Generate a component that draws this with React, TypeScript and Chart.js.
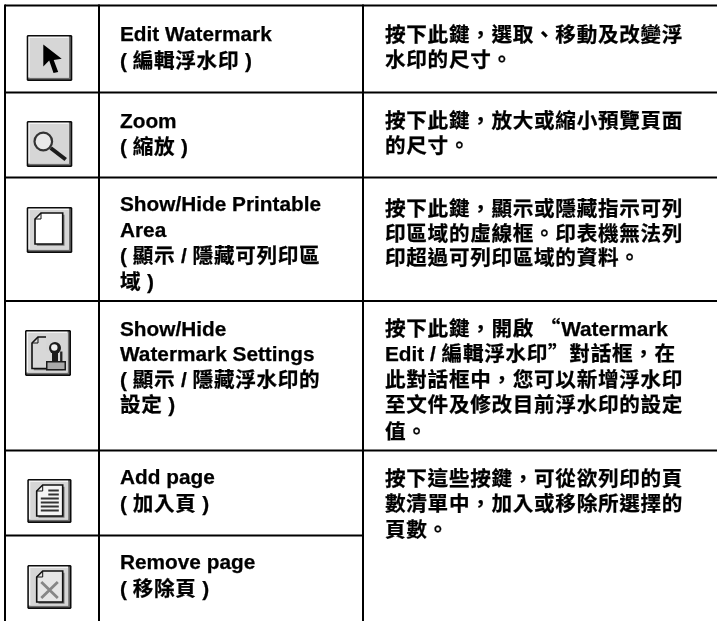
import { useEffect, useRef } from "react";
import { Chart, registerables } from "chart.js";

Chart.register(...registerables);

// ---- content of the table ----
const commandLabels: string[][] = [
  ["Edit Watermark", "( 編輯浮水印 )"],
  ["Zoom", "( 縮放 )"],
  ["Show/Hide Printable", "Area", "( 顯示 / 隱藏可列印區", "域 )"],
  ["Show/Hide", "Watermark Settings", "( 顯示 / 隱藏浮水印的", "設定 )"],
  ["Add page", "( 加入頁 )"],
  ["Remove page", "( 移除頁 )"],
];
const descriptions: string[][] = [
  ["按下此鍵，選取、移動及改變浮", "水印的尺寸。"],
  ["按下此鍵，放大或縮小預覽頁面", "的尺寸。"],
  ["按下此鍵，顯示或隱藏指示可列", "印區域的虛線框。印表機無法列", "印超過可列印區域的資料。"],
  ["按下此鍵，開啟 “Watermark", "Edit / 編輯浮水印”對話框，在", "此對話框中，您可以新增浮水印", "至文件及修改目前浮水印的設定", "值。"],
  ["按下這些按鍵，可從欲列印的頁", "數清單中，加入或移除所選擇的", "頁數。"],
];
const iconKinds = ["arrow", "zoom", "page", "stamp", "lines", "cross"];

// ---- layout in table units (the axes run 0..717 and 0..621) ----
const columnRules = [5, 99, 363];
const rowRules = [5.5, 92.5, 177.5, 301, 450.5];
const shortRowRule = 535.6;
const commandBaselines = [
  [41, 68],
  [127.5, 154],
  [211, 237, 263, 289],
  [335.5, 361, 387, 412],
  [484, 511],
  [569, 596],
];
const descriptionBaselines = [
  [41.5, 66.5],
  [127.5, 152.5],
  [215.5, 240.5, 265],
  [335.5, 360.5, 386.5, 411.5, 438.5],
  [485.5, 510.5, 536.5],
];
const iconOrigins = [
  [26.7, 35],
  [26.7, 121],
  [26.7, 207],
  [25, 330],
  [27.3, 479],
  [27.3, 565],
];
const iconSizes = [
  [45.6, 46],
  [45.6, 46],
  [45.6, 46],
  [46, 46],
  [44.2, 44],
  [44.2, 44],
];
const commandX = 120;
const descriptionX = 385;
const tableWidth = 717;
const tableHeight = 621;

const LATIN = '"Liberation Sans", Arial, sans-serif';
const CJK = '"Noto Sans CJK TC", sans-serif';

function splitRuns(text: string) {
  return text.match(/[\u0020-\u007e]+|[^\u0020-\u007e]+/g) || [];
}

function drawLine(ctx: any, x: number, y: number, text: string, X: (v: number) => number, Y: (v: number) => number) {
  let cx = X(x);
  const by = Y(y);
  for (const run of splitRuns(text)) {
    const latin = /^[\u0020-\u007e]/.test(run);
    ctx.font = latin ? `bold 20.8px ${LATIN}` : `bold 20.6px ${CJK}`;
    ctx.letterSpacing = latin ? "0px" : "0.7px";
    ctx.lineWidth = 0.25;
    ctx.strokeStyle = "#000";
    ctx.fillText(run, cx, by);
    ctx.strokeText(run, cx, by);
    cx += ctx.measureText(run).width;
  }
  ctx.letterSpacing = "0px";
}

function drawIcon(ctx: any, kind: string, ox: number, oy: number, w: number, h: number, X: (v: number) => number, Y: (v: number) => number) {
  const px = (v: number) => X(ox + v);
  const py = (v: number) => Y(oy + v);
  const poly = (pts: number[][]) => {
    ctx.beginPath();
    pts.forEach((p, i) => (i ? ctx.lineTo(px(p[0]), py(p[1])) : ctx.moveTo(px(p[0]), py(p[1]))));
    ctx.closePath();
  };
  // the bevelled button
  ctx.fillStyle = "#0c0c0c";
  poly([[1, 0], [w - 1, 0], [w, 1], [w, h - 1], [w - 1, h], [1, h], [0, h - 1], [0, 1]]);
  ctx.fill();
  ctx.fillStyle = "#6e6e6e";
  ctx.fillRect(px(1.6), py(1.6), w - 3.2, h - 3.2);
  ctx.fillStyle = "#f4f4f4";
  ctx.fillRect(px(1.6), py(1.6), w - 5, h - 5);
  ctx.fillStyle = "#d6d6d6";
  ctx.fillRect(px(3), py(3), w - 6.4, h - 6.4);

  const page = (l: number, t: number, r: number, b: number, fill: string) => {
    const f = 6;
    const shape = [[l + f, t], [r, t], [r, b], [l, b], [l, t + f]];
    ctx.fillStyle = "#777";
    poly(shape.map((p) => [p[0] + 1.8, p[1] + 1.8]));
    ctx.fill();
    ctx.fillStyle = fill;
    poly(shape);
    ctx.fill();
    ctx.strokeStyle = "#111";
    ctx.lineWidth = 1.6;
    ctx.stroke();
    ctx.lineWidth = 1;
    ctx.beginPath();
    ctx.moveTo(px(l + f), py(t));
    ctx.lineTo(px(l + f), py(t + f));
    ctx.lineTo(px(l), py(t + f));
    ctx.stroke();
  };

  if (kind === "arrow") {
    ctx.fillStyle = "#000";
    poly([[16.6, 9.5], [35, 23.8], [27, 25], [31.5, 37], [26.8, 38], [22.5, 25.5], [16.6, 31.5]]);
    ctx.fill();
  } else if (kind === "zoom") {
    ctx.strokeStyle = "#333";
    ctx.lineWidth = 2.2;
    ctx.beginPath();
    ctx.arc(px(16.6), py(20.5), 8.8, 0, Math.PI * 2);
    ctx.fillStyle = "#e8e8e8";
    ctx.fill();
    ctx.stroke();
    ctx.lineWidth = 4;
    ctx.strokeStyle = "#1c1c1c";
    ctx.beginPath();
    ctx.moveTo(px(24), py(27));
    ctx.lineTo(px(39), py(38.5));
    ctx.stroke();
  } else if (kind === "page") {
    page(8.3, 6, 36, 37, "#ffffff");
  } else if (kind === "stamp") {
    page(7, 7, 36, 38.5, "#d8d8d8");
    ctx.fillStyle = "#d6d6d6";
    ctx.fillRect(px(21), py(5.5), 18, 16);
    ctx.fillStyle = "#1c1c1c";
    ctx.beginPath();
    ctx.arc(px(30), py(18), 6, 0, Math.PI * 2);
    ctx.fill();
    ctx.fillStyle = "#f0f0f0";
    ctx.beginPath();
    ctx.arc(px(29.3), py(17.5), 3.2, 0, Math.PI * 2);
    ctx.fill();
    ctx.fillStyle = "#1c1c1c";
    ctx.fillRect(px(27), py(23), 6, 8);
    ctx.fillRect(px(21), py(31), 20, 9.5);
    ctx.fillStyle = "#aaa";
    ctx.fillRect(px(22.5), py(32.5), 17, 6.5);
  } else if (kind === "lines") {
    page(9.4, 6, 35.4, 37, "#f4f4f4");
    ctx.fillStyle = "#333";
    [9, 13, 17, 21, 25, 29].forEach((v, i) => {
      const l = i < 2 ? 21 : 13.5;
      ctx.fillRect(px(l), py(v + 1.5), 31.5 - l, 2);
    });
  } else {
    page(9.4, 6, 35.4, 37, "#e6e6e6");
    ctx.strokeStyle = "#868686";
    ctx.lineWidth = 2.8;
    ctx.beginPath();
    ctx.moveTo(px(14), py(17));
    ctx.lineTo(px(30.5), py(33));
    ctx.moveTo(px(30.5), py(17));
    ctx.lineTo(px(14), py(33));
    ctx.stroke();
  }
}

const tablePlugin = {
  id: "tableContent",
  afterDatasetsDraw(chart: any) {
    const { ctx, scales } = chart;
    const X = (v: number) => scales.x.getPixelForValue(v);
    const Y = (v: number) => scales.y.getPixelForValue(v);
    ctx.save();
    ctx.filter = "blur(0.5px)";
    iconKinds.forEach((kind, i) => {
      drawIcon(ctx, kind, iconOrigins[i][0], iconOrigins[i][1], iconSizes[i][0], iconSizes[i][1], X, Y);
    });
    ctx.textBaseline = "alphabetic";
    ctx.textAlign = "left";
    ctx.fillStyle = "#000";
    commandLabels.forEach((lines, r) =>
      lines.forEach((t, l) => drawLine(ctx, commandX, commandBaselines[r][l], t, X, Y)),
    );
    descriptions.forEach((lines, r) =>
      lines.forEach((t, l) => drawLine(ctx, descriptionX, descriptionBaselines[r][l], t, X, Y)),
    );
    ctx.restore();
  },
};

function rule(points: { x: number; y: number }[]) {
  return {
    type: "line" as const,
    data: points,
    borderColor: "#000",
    borderWidth: 2,
    pointRadius: 0,
    tension: 0,
    fill: false,
  };
}

export default function App() {
  const ref = useRef<HTMLCanvasElement>(null);
  useEffect(() => {
    const chart = new Chart(ref.current!, {
      type: "line",
      data: {
        datasets: [
          ...columnRules.map((x) => rule([{ x, y: rowRules[0] - 1 }, { x, y: tableHeight }])),
          ...rowRules.map((y) => rule([{ x: columnRules[0], y }, { x: tableWidth, y }])),
          rule([{ x: columnRules[0], y: shortRowRule }, { x: columnRules[2], y: shortRowRule }]),
        ],
      },
      options: {
        animation: false,
        responsive: false,
        devicePixelRatio: 1,
        layout: { padding: 0 },
        plugins: { legend: { display: false }, tooltip: { enabled: false }, title: { display: false } },
        scales: {
          x: { type: "linear", min: 0, max: tableWidth, display: false },
          y: { type: "linear", min: 0, max: tableHeight, reverse: true, display: false },
        },
      },
      plugins: [tablePlugin],
    });
    return () => chart.destroy();
  }, []);
  return (
    <canvas
      ref={ref}
      width={717}
      height={621}
      style={{ position: "fixed", left: 0, top: 0, width: 717, height: 621, display: "block", background: "#fff" }}
    />
  );
}
